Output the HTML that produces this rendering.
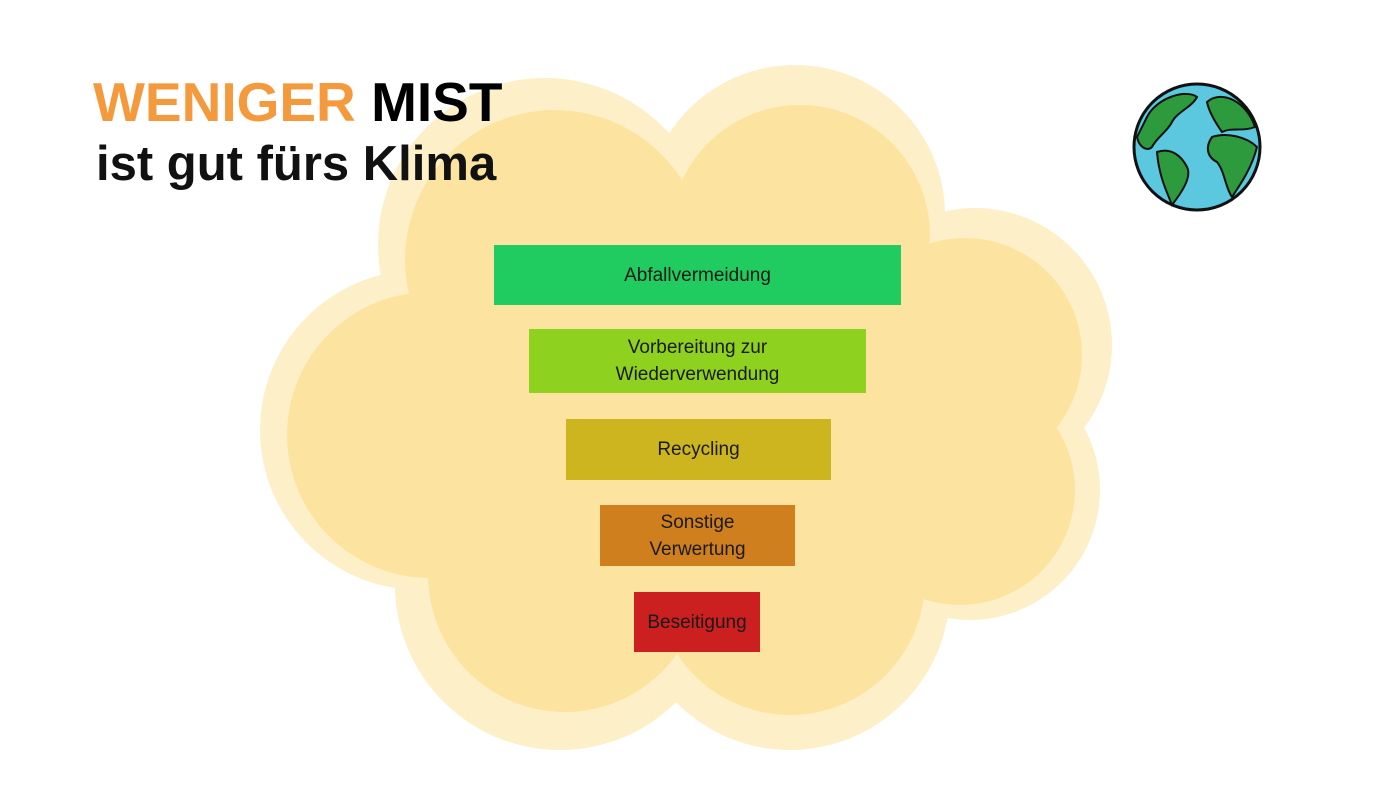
<!DOCTYPE html>
<html><head><meta charset="utf-8"><style>
body{margin:0;width:1400px;height:786px;background:#fff;overflow:hidden;position:relative;font-family:"Liberation Sans",sans-serif}
svg.bg{position:absolute;left:0;top:0}
.t1{position:absolute;left:93px;top:70px;font-size:55px;font-weight:bold;letter-spacing:0px;color:#f59a3c;white-space:nowrap}
.t1 b{color:#000}
.t2{position:absolute;left:96px;top:136px;font-size:49px;font-weight:bold;color:#111;white-space:nowrap}
.box{position:absolute;display:flex;align-items:center;justify-content:center;text-align:center;font-size:19px;line-height:27px;color:#1a1a1a}
</style></head><body>
<svg class="bg" width="1400" height="786">
<g fill="#fdf0c8">
<circle cx="545" cy="245" r="167"/><circle cx="795" cy="215" r="150"/><circle cx="975" cy="345" r="137"/><circle cx="970" cy="490" r="130"/><circle cx="790" cy="590" r="160"/><circle cx="560" cy="585" r="165"/><circle cx="420" cy="430" r="160"/><ellipse cx="700" cy="420" rx="300" ry="230"/>
</g>
<g fill="#fde3a0">
<circle cx="555" cy="260" r="150"/><circle cx="800" cy="235" r="130"/><circle cx="965" cy="355" r="117"/><circle cx="960" cy="490" r="115"/><circle cx="790" cy="580" r="135"/><circle cx="565" cy="575" r="137"/><circle cx="430" cy="435" r="143"/><ellipse cx="700" cy="420" rx="280" ry="215"/>
</g>
<g transform="translate(1197,147)">
<circle r="63" fill="#5bc8e0" stroke="#111" stroke-width="3"/>
<path d="M-50,-30 C-40,-50 -10,-58 0,-50 C-5,-40 -20,-35 -25,-25 C-30,-15 -40,-10 -45,0 C-50,5 -58,0 -60,-10 Z" fill="#2e9a3e" stroke="#111" stroke-width="2"/>
<path d="M-40,5 C-25,0 -15,10 -10,20 C-5,30 -15,45 -25,58 C-30,45 -38,30 -40,5 Z" fill="#2e9a3e" stroke="#111" stroke-width="2"/>
<path d="M10,-45 C25,-58 50,-45 58,-20 C45,-15 35,-20 25,-15 C18,-25 12,-35 10,-45 Z" fill="#2e9a3e" stroke="#111" stroke-width="2"/>
<path d="M15,-10 C30,-15 50,-10 60,0 C55,20 45,35 35,50 C28,40 28,25 20,15 C10,10 8,0 15,-10 Z" fill="#2e9a3e" stroke="#111" stroke-width="2"/>
</g>
</svg>
<div class="t1">WENIGER <b>MIST</b></div>
<div class="t2">ist gut fürs Klima</div>
<div class="box" style="left:494px;top:245px;width:407px;height:60px;background:#20cc5f">Abfallvermeidung</div>
<div class="box" style="left:529px;top:329px;width:337px;height:64px;background:#8fd11f">Vorbereitung zur<br>Wiederverwendung</div>
<div class="box" style="left:566px;top:419px;width:265px;height:61px;background:#cdb51f">Recycling</div>
<div class="box" style="left:600px;top:505px;width:195px;height:61px;background:#d07f1f">Sonstige<br>Verwertung</div>
<div class="box" style="left:634px;top:592px;width:126px;height:60px;background:#cc1f1f">Beseitigung</div>
</body></html>
